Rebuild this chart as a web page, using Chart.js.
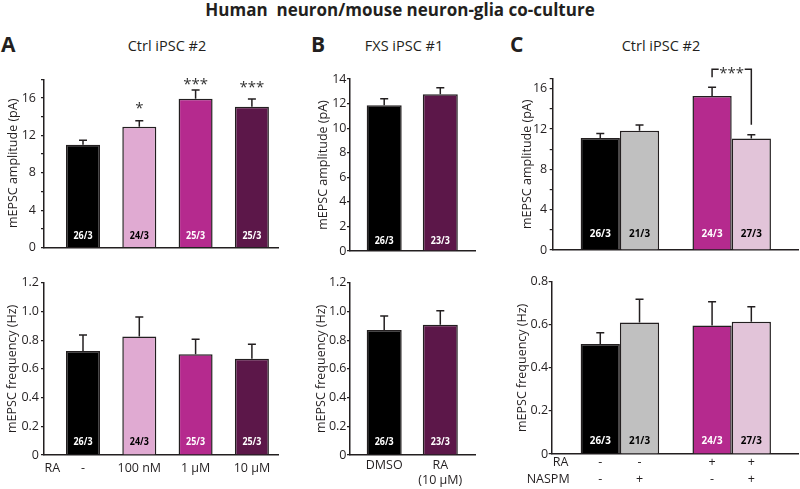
<!DOCTYPE html>
<html>
<head>
<meta charset="utf-8">
<script src="https://cdn.jsdelivr.net/npm/chart.js@4.4.1/dist/chart.umd.min.js"></script>
<style>
  html, body { margin: 0; padding: 0; background: #fff; }
  #fig { position: relative; width: 800px; height: 489px; overflow: hidden; font-family: "Open Sans", sans-serif; color: #231f20; }
  #fig canvas { position: absolute; }
  .txt { position: absolute; white-space: pre; line-height: 1; }
  #title { left: 0; width: 800px; top: 1px; text-align: center; font-weight: bold; font-size: 17px; }
  .letter { font-weight: bold; font-size: 21px; top: 33.5px; }
  .sub { font-size: 14.5px; top: 39px; width: 160px; text-align: center; }
</style>
</head>
<body>
<div id="fig">
  <div class="txt" id="title">Human  neuron/mouse neuron-glia co-culture</div>
  <div class="txt letter" style="left:1px">A</div>
  <div class="txt letter" style="left:311px">B</div>
  <div class="txt letter" style="left:510px">C</div>
  <div class="txt sub" style="left:87px">Ctrl iPSC #2</div>
  <div class="txt sub" style="left:324px">FXS iPSC #1</div>
  <div class="txt sub" style="left:581px">Ctrl iPSC #2</div>
</div>
<script>
// ---- data ----
// A: Ctrl iPSC #2, RA dose
const A_GROUPS = ['-', '100 nM', '1 \u00b5M', '10 \u00b5M'];
const A_AMP = [11.0, 12.93, 15.92, 15.06];
const A_AMP_SEM = [0.47, 0.63, 0.94, 0.83];
const A_FREQ = [0.724, 0.826, 0.701, 0.671];
const A_FREQ_SEM = [0.112, 0.135, 0.105, 0.100];
const A_N = ['26/3', '24/3', '25/3', '25/3'];
const A_STARS = ['', '*', '***', '***'];

// B: FXS iPSC #1
const B_GROUPS = ['DMSO', ['RA', '(10 \u00b5M)']];
const B_AMP = [11.86, 12.75];
const B_AMP_SEM = [0.53, 0.54];
const B_FREQ = [0.870, 0.907];
const B_FREQ_SEM = [0.098, 0.098];
const B_N = ['26/3', '23/3'];

// C: Ctrl iPSC #2, RA x NASPM (bars left to right)
const C_RA = ['-', '-', '+', '+'];
const C_NASPM = ['-', '+', '-', '+'];
const C_AMP = [11.10, 11.82, 15.28, 11.06];
const C_AMP_SEM = [0.46, 0.59, 0.86, 0.37];
const C_FREQ = [0.511, 0.611, 0.597, 0.614];
const C_FREQ_SEM = [0.052, 0.107, 0.110, 0.070];
const C_N = ['26/3', '21/3', '24/3', '27/3'];

// bar colours
const A_COLORS = ['#000000', '#e0aad2', '#b52a8e', '#5c1749'];
const B_COLORS = ['#000000', '#5c1749'];
const C_COLORS = ['#000000', '#c0c0c0', '#b52a8e', '#e2c4d9'];

const FONT = '"Open Sans", sans-serif';
const INK = '#231f20';

Chart.defaults.font.family = FONT;
Chart.defaults.font.size = 12.5;
Chart.defaults.color = INK;

function lum(hex) {
  const n = parseInt(hex.slice(1), 16);
  return 0.299 * (n >> 16) + 0.587 * ((n >> 8) & 255) + 0.114 * (n & 255);
}

function errTop(chart, di, i) {
  const ds = chart.data.datasets[di];
  return chart.scales.y.getPixelForValue(ds.data[i].y + ds.errors[i]);
}

function drawStars(ctx, text, x, yc) {
  ctx.font = '15px ' + FONT;
  ctx.fillStyle = '#333';
  ctx.textAlign = 'center';
  ctx.textBaseline = 'alphabetic';
  ctx.fillText(text, x, yc + 8.5);
}

// error bars, n labels inside bars, significance stars
const barExtras = {
  id: 'barExtras',
  afterDatasetsDraw(chart, args, opts) {
    const ctx = chart.ctx;
    const area = chart.chartArea;
    ctx.save();
    chart.data.datasets.forEach((ds, di) => {
      chart.getDatasetMeta(di).data.forEach((bar, i) => {
        const top = errTop(chart, di, i);
        ctx.strokeStyle = INK;
        ctx.lineWidth = 1.5;
        ctx.beginPath();
        ctx.moveTo(bar.x, bar.y);
        ctx.lineTo(bar.x, top);
        ctx.moveTo(bar.x - 4, top);
        ctx.lineTo(bar.x + 4, top);
        ctx.stroke();

        ctx.font = 'bold 11px ' + FONT;
        ctx.fillStyle = lum(ds.backgroundColor[i]) < 140 ? '#fff' : '#000';
        ctx.textAlign = 'center';
        ctx.textBaseline = 'middle';
        ctx.fillText(ds.nLabels[i], bar.x, bar.base - opts.nOffset, opts.nWidth);

        if (ds.stars && ds.stars[i]) {
          drawStars(ctx, ds.stars[i], bar.x, Math.max(area.top + 1.5, top - 16));
        }
      });
    });
    ctx.restore();
  }
};

// row labels under the x axis (RA / NASPM)
const rowLabels = {
  id: 'rowLabels',
  afterDraw(chart, args, opts) {
    if (!opts.rows) return;
    const ctx = chart.ctx;
    const area = chart.chartArea;
    ctx.save();
    ctx.font = '12.5px ' + FONT;
    ctx.fillStyle = INK;
    ctx.textBaseline = 'middle';
    opts.rows.forEach(row => {
      const y = area.bottom + row.dy;
      ctx.textAlign = 'left';
      ctx.fillText(row.label, area.left + row.dx, y);
      if (row.marks) {
        ctx.textAlign = 'center';
        opts.order.forEach(([di, i], k) => {
          const bar = chart.getDatasetMeta(di).data[i];
          ctx.fillText(row.marks[k], bar.x, y);
        });
      }
    });
    ctx.restore();
  }
};

// significance bracket between two bars
const bracket = {
  id: 'bracket',
  afterDatasetsDraw(chart, args, opts) {
    if (!opts.a) return;
    const ctx = chart.ctx;
    const a = chart.getDatasetMeta(opts.a[0]).data[opts.a[1]];
    const b = chart.getDatasetMeta(opts.b[0]).data[opts.b[1]];
    const yb = chart.chartArea.top - 9.3;
    const ta = errTop(chart, opts.a[0], opts.a[1]) - 10;
    const tb = errTop(chart, opts.b[0], opts.b[1]) - 10;
    const mid = (a.x + b.x) / 2;
    ctx.save();
    ctx.strokeStyle = INK;
    ctx.lineWidth = 1.5;
    ctx.beginPath();
    ctx.moveTo(a.x, ta);
    ctx.lineTo(a.x, yb);
    ctx.lineTo(mid - 13, yb);
    ctx.moveTo(mid + 13, yb);
    ctx.lineTo(b.x, yb);
    ctx.lineTo(b.x, tb);
    ctx.stroke();
    drawStars(ctx, opts.text, mid, yb);
    ctx.restore();
  }
};

Chart.register(barExtras, rowLabels, bracket);

function ticksFrom(max, step) {
  const t = [];
  for (let i = 0; i * step <= max + 1e-9; i++) t.push(Math.round(i * step * 1000) / 1000);
  if (t[t.length - 1] < max - 1e-9) t.push(max);
  return t;
}

function oneDecimal(v) { return v === 0 ? '0' : v.toFixed(1); }

function simpleSet(groups, vals, errs, ns, colors, stars) {
  return [{
    data: vals.map((v, i) => ({ x: i, y: v })),
    errors: errs, nLabels: ns, stars: stars,
    backgroundColor: colors
  }];
}

// C: one dataset per NASPM level, grouped by RA
function cSets(vals, errs) {
  return ['-', '+'].map(nas => {
    const idx = [0, 1, 2, 3].filter(k => C_NASPM[k] === nas);
    return {
      data: idx.map(k => ({ x: C_RA[k] === '+' ? 1 : 0, y: vals[k] })),
      errors: idx.map(k => errs[k]),
      nLabels: idx.map(k => C_N[k]),
      backgroundColor: idx.map(k => C_COLORS[k])
    };
  });
}
const C_ORDER = [[0, 0], [1, 0], [0, 1], [1, 1]];

function makePanel(p) {
  const cv = document.createElement('canvas');
  cv.width = p.box.w;
  cv.height = p.box.h;
  cv.style.left = p.box.l + 'px';
  cv.style.top = p.box.t + 'px';
  document.getElementById('fig').appendChild(cv);
  const xMin = -(p.c0 - p.plot.x0) / p.unit;
  const xMax = (p.plot.x1 - p.c0) / p.unit;
  const yTicks = ticksFrom(p.yMax, p.yStep);
  p.datasets.forEach(ds => {
    ds.borderColor = INK;
    ds.borderWidth = 1.5;
    ds.categoryPercentage = p.catPct;
    ds.barPercentage = p.barPct;
  });
  return new Chart(cv, {
    type: 'bar',
    data: { datasets: p.datasets },
    options: {
      responsive: false,
      animation: false,
      layout: { padding: { left: 0, top: p.plot.y0 - p.box.t, right: p.box.l + p.box.w - p.plot.x1, bottom: 0 } },
      plugins: {
        legend: { display: false },
        tooltip: { enabled: false },
        barExtras: { nOffset: p.nOffset, nWidth: p.nWidth },
        rowLabels: { rows: p.rows || null, order: p.order || null },
        bracket: p.bracket || {}
      },
      scales: {
        x: {
          type: 'linear', min: xMin, max: xMax, offset: false,
          afterFit: s => { s.height = p.box.t + p.box.h - p.plot.y1; },
          afterBuildTicks: s => { s.ticks = p.xTicks.map(v => ({ value: v })); },
          grid: { display: false, drawTicks: false, offset: false },
          border: { display: true, color: INK, width: 1.5 },
          ticks: {
            display: !!p.xLabels,
            callback: v => (p.xLabels ? p.xLabels[v] : ''),
            padding: p.xPad || 0, maxRotation: 0, autoSkip: false,
            font: { size: 12.5, lineHeight: 1.15 }
          }
        },
        y: {
          min: 0, max: p.yMax,
          afterFit: s => { s.width = p.plot.x0 - p.box.l; },
          afterBuildTicks: s => { s.ticks = yTicks.map(v => ({ value: v })); },
          grid: { drawOnChartArea: false, drawTicks: true, tickLength: 3, color: INK, lineWidth: 1.2 },
          border: { display: true, color: INK, width: 1.5 },
          ticks: { callback: p.yFmt, padding: p.yPad, autoSkip: false, font: { size: 12.5 } },
          title: { display: true, text: p.yTitle, padding: { top: p.titlePad, bottom: 0 }, font: { size: 12.5 } }
        }
      }
    }
  });
}

const AMP_TITLE = 'mEPSC amplitude (pA)';
const FREQ_TITLE = 'mEPSC frequency (Hz)';
const every4 = v => (v % 4 === 0 && v <= 16 ? String(v) : '');

// A top
makePanel({
  box: { l: 0, t: 60, w: 285, h: 200 }, plot: { x0: 44, x1: 278, y0: 79.3, y1: 251.7 },
  c0: 83, unit: 56.3, catPct: 1, barPct: 0.604, xTicks: [0, 1, 2, 3],
  yMax: 18, yStep: 2, yFmt: every4, yPad: 5, yTitle: AMP_TITLE, titlePad: 6,
  nOffset: 11, nWidth: 19,
  datasets: simpleSet(A_GROUPS, A_AMP, A_AMP_SEM, A_N, A_COLORS, A_STARS)
});
// A bottom
makePanel({
  box: { l: 0, t: 262, w: 285, h: 227 }, plot: { x0: 44, x1: 278, y0: 282.7, y1: 455 },
  c0: 83, unit: 56.3, catPct: 1, barPct: 0.604, xTicks: [0, 1, 2, 3], xLabels: A_GROUPS, xPad: 6.5,
  yMax: 1.2, yStep: 0.2, yFmt: oneDecimal, yPad: 2, yTitle: FREQ_TITLE, titlePad: 5,
  nOffset: 12.3, nWidth: 19,
  rows: [{ label: 'RA', dx: 0.5, dy: 13.7 }],
  datasets: simpleSet(A_GROUPS, A_FREQ, A_FREQ_SEM, A_N, A_COLORS, null)
});
// B top
makePanel({
  box: { l: 300, t: 60, w: 185, h: 200 }, plot: { x0: 350, x1: 475, y0: 79, y1: 251 },
  c0: 384.2, unit: 56.1, catPct: 1, barPct: 0.624, xTicks: [0, 1],
  yMax: 14, yStep: 2, yFmt: v => String(v), yPad: 0.5, yTitle: AMP_TITLE, titlePad: 16,
  nOffset: 10, nWidth: 19,
  datasets: simpleSet(B_GROUPS, B_AMP, B_AMP_SEM, B_N, B_COLORS, null)
});
// B bottom
makePanel({
  box: { l: 300, t: 262, w: 185, h: 227 }, plot: { x0: 350, x1: 475, y0: 282.7, y1: 455 },
  c0: 384.2, unit: 56.1, catPct: 1, barPct: 0.624, xTicks: [0, 1], xLabels: B_GROUPS, xPad: 3.6,
  yMax: 1.2, yStep: 0.2, yFmt: oneDecimal, yPad: 0.5, yTitle: FREQ_TITLE, titlePad: 13.5,
  nOffset: 12.3, nWidth: 19,
  datasets: simpleSet(B_GROUPS, B_FREQ, B_FREQ_SEM, B_N, B_COLORS, null)
});
// C top
makePanel({
  box: { l: 505, t: 60, w: 295, h: 200 }, plot: { x0: 552.7, x1: 798, y0: 78.6, y1: 250.7 },
  c0: 619.9, unit: 111.8, catPct: 0.702, barPct: 1, xTicks: [0, 1],
  yMax: 17, yStep: 2, yFmt: every4, yPad: 2.5, yTitle: AMP_TITLE, titlePad: 15.3,
  nOffset: 15.5, nWidth: 21,
  bracket: { a: [0, 1], b: [1, 1], text: '***' },
  datasets: cSets(C_AMP, C_AMP_SEM)
});
// C bottom
makePanel({
  box: { l: 505, t: 262, w: 295, h: 227 }, plot: { x0: 551.7, x1: 798, y0: 281.7, y1: 454 },
  c0: 619.9, unit: 111.8, catPct: 0.702, barPct: 1, xTicks: [0, 1],
  yMax: 0.8, yStep: 0.2, yFmt: oneDecimal, yPad: 0.5, yTitle: FREQ_TITLE, titlePad: 10,
  nOffset: 12.3, nWidth: 21,
  rows: [{ label: 'RA', dx: 1, dy: 8, marks: C_RA }, { label: 'NASPM', dx: -25, dy: 25, marks: C_NASPM }],
  order: C_ORDER,
  datasets: cSets(C_FREQ, C_FREQ_SEM)
});
</script>
</body>
</html>
